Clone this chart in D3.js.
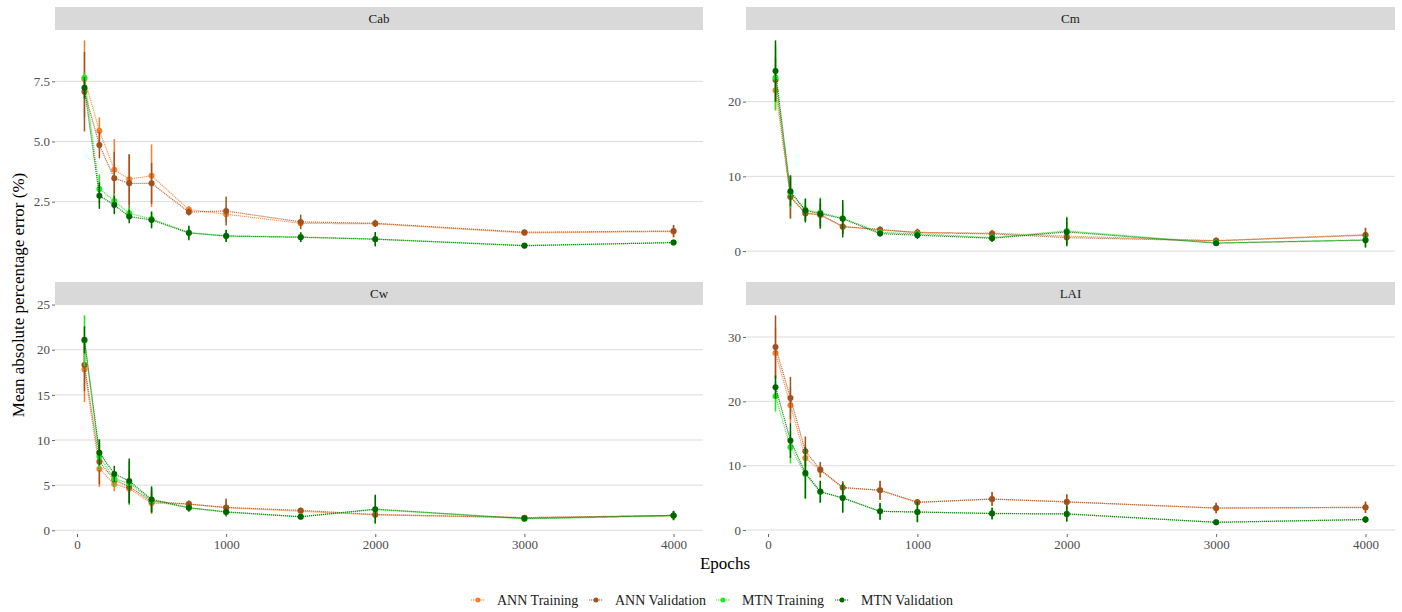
<!DOCTYPE html>
<html>
<head>
<meta charset="utf-8">
<script src="https://cdn.jsdelivr.net/npm/d3@7"></script>
<style>
  body { margin: 0; background: #fff; }
  text { font-family: "Liberation Serif", "DejaVu Serif", serif; }
</style>
</head>
<body>
<div id="chart"></div>
<script>
// epochs on the x axis
var epochs = [50, 150, 250, 350, 500, 750, 1000, 1500, 2000, 3000, 4000];
var xTicks = [0, 1000, 2000, 3000, 4000];
var seriesNames = ["ANN Training", "ANN Validation", "MTN Training", "MTN Validation"];
var seriesColors = ["#fb7d2b", "#a0521e", "#19ee19", "#006400"];
var panelNames = ["Cab", "Cm", "Cw", "LAI"];

// mean values per series: ANN train, ANN valid, MTN train, MTN valid
var cabMeans = [
  [7.6, 5.45, 3.83, 3.43, 3.58, 2.17, 1.98, 1.6, 1.58, 1.2, 1.26],
  [7.07, 4.85, 3.47, 3.26, 3.26, 2.07, 2.11, 1.66, 1.6, 1.23, 1.28],
  [7.65, 3.03, 2.53, 2.02, 1.78, 1.22, 1.08, 1.03, 0.95, 0.68, 0.8],
  [7.23, 2.75, 2.36, 1.88, 1.74, 1.2, 1.07, 1.02, 0.94, 0.67, 0.8]
];
var cabErrs = [
  [1.6, 0.55, 1.27, 1.05, 1.3, 0.15, 0.3, 0.15, 0.12, 0.1, 0.25],
  [1.65, 0.55, 1.1, 1.2, 0.85, 0.15, 0.6, 0.3, 0.15, 0.1, 0.25],
  [0.2, 0.6, 0.3, 0.25, 0.3, 0.25, 0.25, 0.2, 0.25, 0.08, 0.08],
  [0.45, 0.55, 0.38, 0.28, 0.35, 0.3, 0.25, 0.2, 0.3, 0.08, 0.08]
];
var cmMeans = [
  [21.5, 7.3, 5.1, 4.8, 3.3, 2.8, 2.5, 2.4, 2.0, 1.4, 2.2],
  [22.9, 7.24, 5.03, 4.9, 3.27, 2.9, 2.47, 2.3, 1.8, 1.37, 2.12],
  [23.2, 7.8, 5.5, 5.15, 4.4, 2.5, 2.3, 1.8, 2.7, 1.1, 1.5],
  [24.1, 8.0, 5.43, 5.0, 4.33, 2.34, 2.12, 1.72, 2.56, 1.06, 1.46]
];
var cmErrs = [
  [2.7, 2.9, 1.0, 1.5, 1.0, 0.4, 0.5, 0.4, 0.8, 0.4, 0.9],
  [3.0, 2.9, 1.0, 1.5, 1.0, 0.4, 0.5, 0.5, 1.0, 0.4, 1.0],
  [4.3, 2.0, 1.5, 2.0, 2.0, 0.4, 0.5, 0.5, 1.9, 0.3, 0.9],
  [4.1, 2.0, 1.6, 2.0, 2.5, 0.4, 0.5, 0.5, 1.9, 0.3, 1.0]
];
var cwMeans = [
  [17.8, 6.8, 5.13, 4.6, 3.0, 2.9, 2.5, 2.1, 1.7, 1.4, 1.6],
  [18.3, 7.6, 5.57, 4.83, 3.2, 2.9, 2.53, 2.2, 1.75, 1.4, 1.65],
  [21.0, 8.17, 5.7, 5.2, 3.3, 2.49, 2.0, 1.49, 2.3, 1.25, 1.6],
  [21.1, 8.6, 6.24, 5.46, 3.42, 2.49, 2.04, 1.5, 2.34, 1.3, 1.65]
];
var cwErrs = [
  [3.6, 2.0, 0.8, 1.5, 1.2, 0.4, 0.8, 0.3, 0.4, 0.2, 0.5],
  [2.9, 2.5, 0.8, 1.8, 1.2, 0.4, 1.0, 0.3, 0.4, 0.2, 0.5],
  [2.8, 1.5, 0.9, 2.4, 1.4, 0.4, 0.4, 0.2, 1.5, 0.2, 0.5],
  [1.5, 1.4, 0.9, 2.5, 1.45, 0.4, 0.4, 0.2, 1.6, 0.2, 0.5]
];
var laiMeans = [
  [27.5, 19.4, 11.2, 9.3, 6.6, 6.2, 4.3, 4.8, 4.4, 3.4, 3.5],
  [28.45, 20.5, 12.24, 9.39, 6.59, 6.17, 4.3, 4.82, 4.36, 3.42, 3.53],
  [20.8, 12.86, 8.7, 5.9, 5.0, 2.9, 2.8, 2.6, 2.5, 1.2, 1.65],
  [22.2, 13.9, 8.87, 5.97, 4.98, 2.9, 2.8, 2.55, 2.5, 1.2, 1.62]
];
var laiErrs = [
  [4.0, 2.8, 2.0, 1.1, 0.9, 1.4, 0.5, 1.0, 1.1, 0.8, 0.8],
  [4.9, 3.3, 2.3, 1.2, 1.0, 1.5, 0.5, 1.1, 1.2, 0.8, 0.9],
  [2.4, 2.5, 3.8, 1.7, 2.2, 1.3, 1.5, 0.9, 1.1, 0.2, 0.5],
  [1.8, 2.7, 4.0, 1.7, 2.3, 1.3, 1.6, 0.9, 1.2, 0.2, 0.5]
];
var cabTicks = [2.5, 5.0, 7.5];
var cmTicks = [0, 10, 20];
var cwTicks = [0, 5, 10, 15, 20, 25];
var laiTicks = [0, 10, 20, 30];

var panelMeans = [cabMeans, cmMeans, cwMeans, laiMeans];
var panelErrs = [cabErrs, cmErrs, cwErrs, laiErrs];
var panelTicks = [cabTicks, cmTicks, cwTicks, laiTicks];
var panelFormats = [d3.format(".1f"), d3.format("d"), d3.format("d"), d3.format("d")];

var width = 1402, height = 612;
var svg = d3.select("#chart").append("svg")
  .attr("width", width).attr("height", height);

// panel boxes (ggplot facet_wrap style, 2x2)
var cols = [[55, 703], [746, 1395]];
var rows = [{strip: 7, top: 30, bottom: 258}, {strip: 282, top: 305, bottom: 534}];

// x scale shared, 5% expansion like ggplot
var xMin = d3.min(epochs), xMax = d3.max(epochs);
var xPad = (xMax - xMin) * 0.05;

panelNames.forEach(function(name, p){
  var c = cols[p % 2], r = rows[Math.floor(p / 2)];
  var means = panelMeans[p], errs = panelErrs[p];

  var x = d3.scaleLinear().domain([xMin - xPad, xMax + xPad]).range([c[0], c[1]]);

  var lo = d3.min(means, function(s, i){ return d3.min(s, function(v, j){ return v - errs[i][j]; }); });
  var hi = d3.max(means, function(s, i){ return d3.max(s, function(v, j){ return v + errs[i][j]; }); });
  var yPad = (hi - lo) * 0.05;
  var y = d3.scaleLinear().domain([lo - yPad, hi + yPad]).range([r.bottom, r.top]);

  var g = svg.append("g");

  // strip
  g.append("rect")
    .attr("x", c[0]).attr("y", r.strip)
    .attr("width", c[1] - c[0]).attr("height", r.top - r.strip)
    .attr("fill", "#d9d9d9");
  g.append("text")
    .attr("x", (c[0] + c[1]) / 2).attr("y", (r.strip + r.top) / 2 + 4.5)
    .attr("text-anchor", "middle")
    .style("font-size", "13px").style("fill", "#1a1a1a")
    .text(name);

  // gridlines
  g.selectAll(".grid").data(panelTicks[p]).enter()
    .append("line")
    .attr("x1", c[0]).attr("x2", c[1])
    .attr("y1", function(d){ return y(d); }).attr("y2", function(d){ return y(d); })
    .attr("stroke", "#dcdcdc").attr("stroke-width", 1);

  // y axis
  var yAxis = g.append("g")
    .attr("transform", "translate(" + c[0] + ",0)")
    .call(d3.axisLeft(y).tickValues(panelTicks[p]).tickFormat(panelFormats[p]).tickSize(3).tickPadding(2));
  yAxis.select(".domain").remove();
  yAxis.selectAll("line").attr("stroke", "#666");
  yAxis.selectAll("text")
    .style("font-family", "'Liberation Serif', serif")
    .style("font-size", "13px").style("fill", "#4d4d4d");

  // x axis only on bottom row
  if (Math.floor(p / 2) === 1){
    var xAxis = g.append("g")
      .attr("transform", "translate(0," + r.bottom + ")")
      .call(d3.axisBottom(x).tickValues(xTicks).tickFormat(d3.format("d")).tickSize(3).tickPadding(3));
    xAxis.select(".domain").remove();
    xAxis.selectAll("line").attr("stroke", "#666");
    xAxis.selectAll("text")
      .style("font-family", "'Liberation Serif', serif")
      .style("font-size", "13px").style("fill", "#4d4d4d");
  }

  var line = d3.line()
    .x(function(d, i){ return x(epochs[i]); })
    .y(function(d){ return y(d); });

  means.forEach(function(s, k){
    var col = seriesColors[k];
    var sg = g.append("g");

    // error bars
    sg.selectAll(".err").data(s).enter()
      .append("line")
      .attr("x1", function(d, i){ return x(epochs[i]); })
      .attr("x2", function(d, i){ return x(epochs[i]); })
      .attr("y1", function(d, i){ return y(d - errs[k][i]); })
      .attr("y2", function(d, i){ return y(d + errs[k][i]); })
      .attr("stroke", col).attr("stroke-width", 1.5);

    sg.append("path")
      .datum(s)
      .attr("d", line)
      .attr("fill", "none")
      .attr("stroke", col)
      .attr("stroke-width", 1.2)
      .attr("stroke-dasharray", "1.2,0.8")
      .attr("opacity", 0.8);

    sg.selectAll(".pt").data(s).enter()
      .append("circle")
      .attr("cx", function(d, i){ return x(epochs[i]); })
      .attr("cy", function(d){ return y(d); })
      .attr("r", 3)
      .attr("fill", col);
  });
});

// axis titles
svg.append("text")
  .attr("transform", "translate(24,295) rotate(-90)")
  .attr("text-anchor", "middle")
  .style("font-size", "17px").style("fill", "#000")
  .text("Mean absolute percentage error (%)");

svg.append("text")
  .attr("x", 725).attr("y", 569)
  .attr("text-anchor", "middle")
  .style("font-size", "17px").style("fill", "#000")
  .text("Epochs");

// legend
var legendX = [478, 596, 723, 842];
var legend = svg.append("g");
seriesNames.forEach(function(n, k){
  var lg = legend.append("g").attr("transform", "translate(" + legendX[k] + ",600)");
  lg.append("line").attr("x1", -7).attr("x2", 7)
    .attr("stroke", seriesColors[k]).attr("stroke-width", 1.2).attr("stroke-dasharray", "1.2,0.8");
  lg.append("circle").attr("r", 2.5).attr("fill", seriesColors[k]);
  lg.append("text").attr("x", 19).attr("y", 4.5)
    .style("font-size", "14px").style("fill", "#1a1a1a")
    .text(n);
});
</script>
</body>
</html>
